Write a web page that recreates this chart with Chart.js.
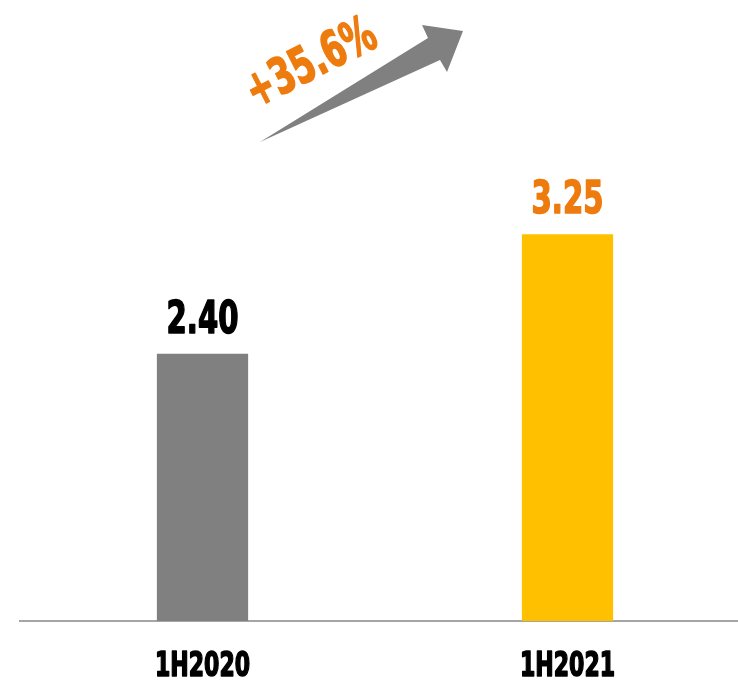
<!DOCTYPE html>
<html>
<head>
<meta charset="utf-8">
<script src="https://cdn.jsdelivr.net/npm/chart.js@4"></script>
<style>
  html, body { margin: 0; padding: 0; background: #fff; overflow: hidden; }
  #wrap { width: 750px; height: 685px; }
</style>
</head>
<body>
<div id="wrap"><canvas id="growthChart"></canvas></div>
<script>
// chart data
const categories = ['1H2020', '1H2021'];
const values = [2.40, 3.25];
const barColors = ['#808080', '#FFC000'];
const labelColors = ['#000000', '#EE7B0E'];
const growthText = '+35.6%';

const FONT = "'DejaVu Sans Condensed', 'DejaVu Sans', sans-serif";
const SQUEEZE = 0.72; // narrow the condensed font to look like Impact

// draw text squeezed horizontally around (x, y), a bit heavier
function narrowText(ctx, text, x, y, size, color) {
  ctx.save();
  ctx.translate(x, y);
  ctx.scale(SQUEEZE, 1);
  ctx.font = 'bold ' + size + 'px ' + FONT;
  ctx.fillStyle = color;
  ctx.strokeStyle = color;
  ctx.lineWidth = 1.6;
  ctx.lineJoin = 'round';
  ctx.textAlign = 'center';
  ctx.fillText(text, 0, 0);
  ctx.strokeText(text, 0, 0);
  ctx.restore();
}

// value labels above the bars + category labels under the axis
const barLabels = {
  id: 'barLabels',
  afterDatasetsDraw(chart) {
    const ctx = chart.ctx;
    const meta = chart.getDatasetMeta(0);
    const xs = chart.scales.x;
    const bottom = chart.chartArea.bottom;
    ctx.save();
    ctx.textBaseline = 'alphabetic';
    meta.data.forEach((bar, i) => {
      narrowText(ctx, values[i].toFixed(2), bar.x, bar.y - 21, 45, labelColors[i]);
    });
    categories.forEach((c, i) => {
      narrowText(ctx, c, xs.getPixelForValue(i), bottom + 54.5, 34, '#000');
    });
    ctx.restore();
  }
};

// growth arrow with the percent text
const growthArrow = {
  id: 'growthArrow',
  afterDraw(chart) {
    const ctx = chart.ctx;
    const L = chart.chartArea.left;
    ctx.save();
    ctx.fillStyle = '#808080';
    ctx.beginPath();
    ctx.moveTo(L + 240, 142);
    ctx.lineTo(L + 408, 38);
    ctx.lineTo(L + 402, 25);
    ctx.lineTo(L + 443, 31);
    ctx.lineTo(L + 427, 72);
    ctx.lineTo(L + 420, 60);
    ctx.closePath();
    ctx.fill();

    ctx.translate(L + 292, 65);
    ctx.rotate(-27 * Math.PI / 180);
    ctx.scale(SQUEEZE, 1);
    ctx.font = 'bold 50px ' + FONT;
    ctx.fillStyle = labelColors[1];
    ctx.strokeStyle = labelColors[1];
    ctx.lineWidth = 1.6;
    ctx.lineJoin = 'round';
    ctx.textAlign = 'center';
    ctx.textBaseline = 'middle';
    ctx.fillText(growthText, 0, 0);
    ctx.strokeText(growthText, 0, 0);
    ctx.restore();
  }
};

new Chart(document.getElementById('growthChart'), {
  type: 'bar',
  data: {
    labels: categories,
    datasets: [{
      data: values,
      backgroundColor: barColors,
      categoryPercentage: 1,
      barPercentage: 0.25
    }]
  },
  options: {
    responsive: true,
    maintainAspectRatio: false,
    animation: false,
    layout: { padding: { left: 20, right: 0, top: 24, bottom: 64 } },
    plugins: { legend: { display: false }, tooltip: { enabled: false } },
    scales: {
      x: {
        grid: { display: false, drawTicks: false },
        border: { display: true, color: '#A5A5A5', width: 2 },
        ticks: { display: false }
      },
      y: {
        display: false,
        min: 0.5,
        max: 4.746
      }
    }
  },
  plugins: [barLabels, growthArrow]
});
</script>
</body>
</html>
